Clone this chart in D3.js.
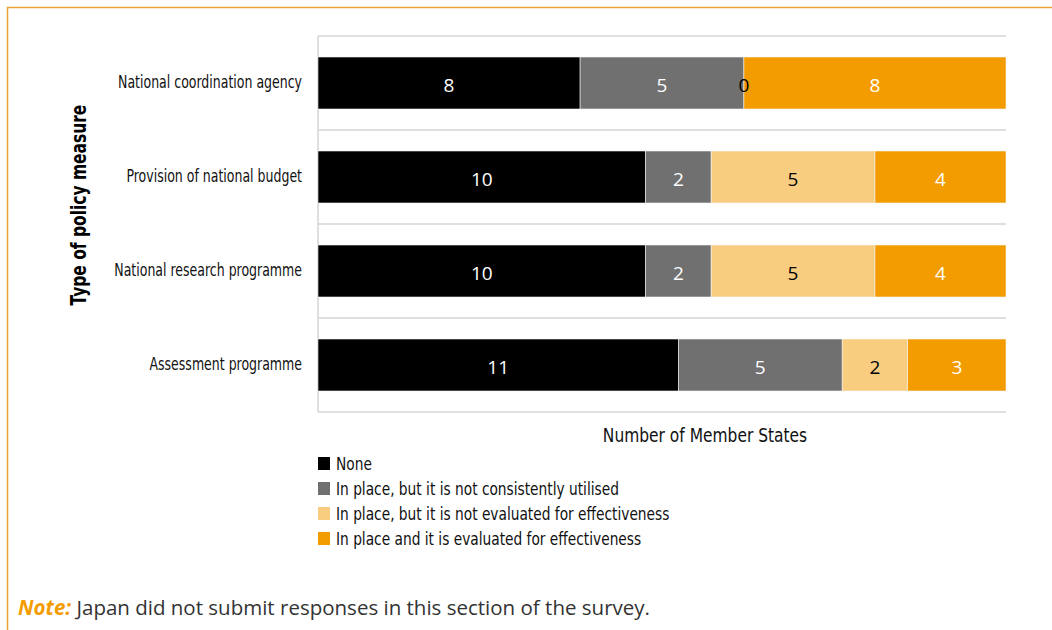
<!DOCTYPE html>
<html>
<head>
<meta charset="utf-8">
<script src="https://cdn.jsdelivr.net/npm/d3@7"></script>
<style>
  body { margin: 0; background: #fff; }
  .narrow { font-family: "Liberation Sans Narrow", "DejaVu Sans Condensed", sans-serif; }
</style>
</head>
<body>
<div id="chart"></div>
<script>
const w = 1052;
const h = 630;

// data
const categories = [
  'National coordination agency',
  'Provision of national budget',
  'National research programme',
  'Assessment programme'
];
const seriesNames = [
  'None',
  'In place, but it is not consistently utilised',
  'In place, but it is not evaluated for effectiveness',
  'In place and it is evaluated for effectiveness'
];
const noneValues = [8, 10, 10, 11];
const notUtilisedValues = [5, 2, 2, 5];
const notEvaluatedValues = [0, 5, 5, 2];
const evaluatedValues = [8, 4, 4, 3];

const colors = ['#000000', '#707070', '#f8cd80', '#f39c00'];
const labelColors = ['#fff', '#fff', '#000', '#fff'];

const table = categories.map((c, i) => ({
  category: c,
  s0: noneValues[i],
  s1: notUtilisedValues[i],
  s2: notEvaluatedValues[i],
  s3: evaluatedValues[i]
}));
const keys = ['s0', 's1', 's2', 's3'];
const stacked = d3.stack().keys(keys)(table);

const svg = d3
  .select('#chart')
  .append('svg')
  .attr('width', w)
  .attr('height', h);

// condensed text: squeeze a condensed font horizontally to match the original
function narrowText(parent, x, y, sx, txt, anchor, size) {
  return parent.append('g')
    .attr('transform', `translate(${x}, ${y}) scale(${sx}, 1)`)
    .append('text')
    .attr('class', 'narrow')
    .attr('text-anchor', anchor)
    .style('font-size', size + 'px')
    .attr('fill', '#111')
    .text(txt);
}

// frame
svg.append('path')
  .attr('d', `M7.5,${h} L7.5,7.5 L${w},7.5`)
  .attr('fill', 'none')
  .attr('stroke', '#eba43c')
  .attr('stroke-width', 1.5);

const plot = {left: 318, right: 1006, top: 36, bottom: 412};

const xScale = d3.scaleLinear()
  .domain([0, d3.max(table, d => d.s0 + d.s1 + d.s2 + d.s3)])
  .range([plot.left, plot.right]);

const yScale = d3.scaleBand()
  .domain(categories)
  .range([plot.top, plot.bottom])
  .paddingInner(0)
  .paddingOuter(0);

const barH = 52;

// band separators
const seps = categories.map(c => yScale(c)).concat([plot.bottom]);
svg.append('g')
  .selectAll('line')
  .data(seps)
  .enter()
  .append('line')
  .attr('x1', plot.left)
  .attr('x2', plot.right)
  .attr('y1', d => d)
  .attr('y2', d => d)
  .attr('stroke', '#d4d4d4')
  .attr('stroke-width', 1.5);

svg.append('line')
  .attr('x1', plot.left)
  .attr('x2', plot.left)
  .attr('y1', plot.top)
  .attr('y2', plot.bottom)
  .attr('stroke', '#d4d4d4')
  .attr('stroke-width', 1.5);

// bars
const layers = svg.append('g')
  .selectAll('g')
  .data(stacked)
  .enter()
  .append('g')
  .attr('fill', (d, i) => colors[i]);

layers.selectAll('rect')
  .data(d => d)
  .enter()
  .append('rect')
  .attr('x', d => xScale(d[0]))
  .attr('y', d => yScale(d.data.category) + (yScale.bandwidth() - barH) / 2)
  .attr('width', d => Math.max(xScale(d[1]) - xScale(d[0]), 0))
  .attr('height', barH)
  .attr('stroke', '#f3f3f3')
  .attr('stroke-width', 0.6);

// value labels
stacked.forEach((layer, i) => {
  svg.append('g')
    .selectAll('text')
    .data(layer)
    .enter()
    .append('text')
    .attr('x', d => (xScale(d[0]) + xScale(d[1])) / 2)
    .attr('y', d => yScale(d.data.category) + yScale.bandwidth() / 2 + 9)
    .attr('text-anchor', 'middle')
    .style('font-family', '"Open Sans", sans-serif')
    .style('font-size', '19px')
    .attr('fill', labelColors[i])
    .text(d => d[1] - d[0]);
});

// category labels
categories.forEach(c => {
  narrowText(svg, 302, yScale(c) + yScale.bandwidth() / 2 + 5, 0.82, c, 'end', 17);
});

// axis titles
svg.append('g')
  .attr('transform', `translate(86, 205) rotate(-90) scale(0.82, 1)`)
  .append('text')
  .attr('class', 'narrow')
  .attr('text-anchor', 'middle')
  .style('font-size', '21px')
  .style('font-weight', 'bold')
  .attr('fill', '#000')
  .text('Type of policy measure');

narrowText(svg, 705, 442, 0.86, 'Number of Member States', 'middle', 20);

// legend
const legend = svg.append('g')
  .attr('transform', 'translate(318, 457)');

seriesNames.forEach((name, i) => {
  legend.append('rect')
    .attr('y', i * 25)
    .attr('width', 12)
    .attr('height', 13)
    .attr('fill', colors[i]);
  narrowText(legend, 18, i * 25 + 13, 0.85, name, 'start', 18);
});

// note
const note = svg.append('text')
  .attr('x', 18)
  .attr('y', 615)
  .style('font-family', '"Open Sans", sans-serif')
  .style('font-size', '20.5px')
  .attr('fill', '#333');

note.append('tspan')
  .style('font-weight', 'bold')
  .style('font-style', 'italic')
  .attr('fill', '#f39c00')
  .text('Note:');

note.append('tspan')
  .text(' Japan did not submit responses in this section of the survey.');
</script>
</body>
</html>
